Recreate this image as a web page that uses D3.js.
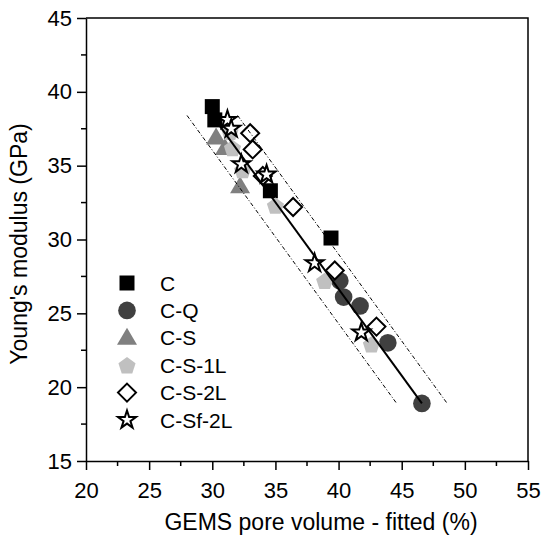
<!DOCTYPE html>
<html>
<head>
<meta charset="utf-8">
<script src="https://cdn.jsdelivr.net/npm/d3@7"></script>
<style>
  body { margin: 0; background: #fff; }
  text { font-family: "Liberation Sans", Arial, sans-serif; fill: #000; }
</style>
</head>
<body>
<div id="chart"></div>
<script>
// 1: DATA
const seriesNames = ["C", "C-Q", "C-S", "C-S-1L", "C-S-2L", "C-Sf-2L"];
const cPoints = [[30.0, 39.0], [30.2, 38.1], [34.6, 33.3], [39.4, 30.1]];
const cqPoints = [[40.1, 27.2], [40.4, 26.1], [41.7, 25.5], [43.9, 23.0], [46.6, 18.9]];
const csPoints = [[30.3, 36.9], [31.0, 36.2], [32.2, 33.6]];
const cs1lPoints = [[31.4, 37.3], [31.6, 36.2], [32.4, 34.7], [35.0, 32.3], [38.9, 27.2], [42.6, 22.9]];
const cs2lPoints = [[33.0, 37.2], [33.2, 36.1], [34.0, 34.3], [36.4, 32.2], [39.7, 27.9], [43.0, 24.1]];
const csf2lPoints = [[31.2, 38.1], [31.5, 37.5], [32.3, 35.1], [34.3, 34.4], [38.1, 28.4], [41.8, 23.7]];
const fitLine = [[30.5, 37.8], [46.6, 18.9]];
const lowerBand = [[28.0, 38.4], [44.6, 18.9]];
const upperBand = [[32.0, 38.4], [48.6, 18.9]];
const xTicks = [20, 25, 30, 35, 40, 45, 50, 55];
const yTicks = [15, 20, 25, 30, 35, 40, 45];

// 2: LAYOUT
const W = 544, H = 540;
const plot = { left: 86, right: 528, top: 18, bottom: 461 };

const svg = d3.select("#chart").append("svg")
    .attr("width", W)
    .attr("height", H);

const x = d3.scaleLinear().domain([20, 55]).range([plot.left, plot.right]);
const y = d3.scaleLinear().domain([15, 45]).range([plot.bottom, plot.top]);

// 3: SYMBOLS
const pentagon = r => {
    const pts = d3.range(5).map(i => {
        const a = -Math.PI / 2 + i * 2 * Math.PI / 5;
        return [r * Math.cos(a), r * Math.sin(a) + 0.9];
    });
    return "M" + pts.join("L") + "Z";
};
const diamond = r => `M0,${-r}L${r},0L0,${r}L${-r},0Z`;
const triangle = "M0,-10L10,7L-10,7Z";

const styles = {
    "C":       { path: d3.symbol(d3.symbolSquare, 225)(), fill: "#000", stroke: "none", sw: 0 },
    "C-Q":     { path: d3.symbol(d3.symbolCircle, 245)(), fill: "#404040", stroke: "none", sw: 0 },
    "C-S":     { path: triangle, fill: "#808080", stroke: "none", sw: 0 },
    "C-S-1L":  { path: pentagon(9), fill: "#c0c0c0", stroke: "none", sw: 0 },
    "C-S-2L":  { path: diamond(9), fill: "#fff", stroke: "#000", sw: 2 },
    "C-Sf-2L": { path: d3.symbol(d3.symbolStar, 100)(), fill: "#fff", stroke: "#000", sw: 2 }
};

const groups = [
    { name: "C", values: cPoints },
    { name: "C-Q", values: cqPoints },
    { name: "C-S", values: csPoints },
    { name: "C-S-1L", values: cs1lPoints },
    { name: "C-S-2L", values: cs2lPoints },
    { name: "C-Sf-2L", values: csf2lPoints }
];

// 4: POINTS
groups.forEach(g => {
    const s = styles[g.name];
    svg.append("g").selectAll("path")
        .data(g.values)
        .enter()
        .append("path")
        .attr("d", s.path)
        .attr("transform", d => `translate(${x(d[0])},${y(d[1])})`)
        .attr("fill", s.fill)
        .attr("stroke", s.stroke)
        .attr("stroke-width", s.sw);
});

// 5: FIT LINE AND BANDS
const line = d3.line().x(d => x(d[0])).y(d => y(d[1]));

[lowerBand, upperBand].forEach(b => {
    svg.append("path")
        .attr("d", line(b))
        .attr("fill", "none")
        .attr("stroke", "#000")
        .attr("stroke-width", 1)
        .attr("stroke-dasharray", "4,2,1,2");
});

svg.append("path")
    .attr("d", line(fitLine))
    .attr("fill", "none")
    .attr("stroke", "#000")
    .attr("stroke-width", 2);

// 6: AXES
const minorX = d3.range(22.5, 55, 5);
const minorY = d3.range(17.5, 45, 5);

const xAxis = svg.append("g")
    .attr("transform", `translate(0,${plot.bottom})`)
    .call(d3.axisBottom(x).tickValues(xTicks).tickSize(9).tickPadding(12).tickSizeOuter(0));
xAxis.append("g").selectAll("line")
    .data(minorX).enter().append("line")
    .attr("x1", d => x(d)).attr("x2", d => x(d))
    .attr("y1", 0).attr("y2", 5)
    .attr("stroke", "#000").attr("stroke-width", 1.5);

const yAxis = svg.append("g")
    .attr("transform", `translate(${plot.left},0)`)
    .call(d3.axisLeft(y).tickValues(yTicks).tickSize(9).tickPadding(5).tickSizeOuter(0));
yAxis.append("g").selectAll("line")
    .data(minorY).enter().append("line")
    .attr("x1", 0).attr("x2", -5)
    .attr("y1", d => y(d)).attr("y2", d => y(d))
    .attr("stroke", "#000").attr("stroke-width", 1.5);

svg.selectAll(".domain").attr("stroke-width", 1.5);
svg.selectAll(".tick line").attr("stroke-width", 1.5);
svg.selectAll(".tick text")
    .style("font-size", "22px")
    .style("font-family", "'Liberation Sans', Arial, sans-serif")
    .attr("fill", "#000");

// frame top and right
svg.append("path")
    .attr("d", `M${plot.left},${plot.top}H${plot.right}V${plot.bottom}`)
    .attr("fill", "none")
    .attr("stroke", "#000")
    .attr("stroke-width", 1.5);

// 7: LABELS
svg.append("text")
    .attr("x", 321)
    .attr("y", 530)
    .attr("text-anchor", "middle")
    .style("font-size", "23px")
    .text("GEMS pore volume - fitted (%)");

svg.append("text")
    .attr("transform", "rotate(-90)")
    .attr("x", -244)
    .attr("y", 27)
    .attr("text-anchor", "middle")
    .style("font-size", "23px")
    .text("Young's modulus (GPa)");

// 8: LEGEND
const legend = svg.selectAll(".legend")
    .data(seriesNames)
    .enter()
    .append("g")
    .attr("class", "legend")
    .attr("transform", (d, i) => `translate(127, ${283 + i * 27.4})`);

legend.append("path")
    .attr("d", d => styles[d].path)
    .attr("fill", d => styles[d].fill)
    .attr("stroke", d => styles[d].stroke)
    .attr("stroke-width", d => styles[d].sw);

legend.append("text")
    .attr("x", 33)
    .attr("y", 7.5)
    .style("font-size", "21px")
    .text(d => d);
</script>
</body>
</html>
